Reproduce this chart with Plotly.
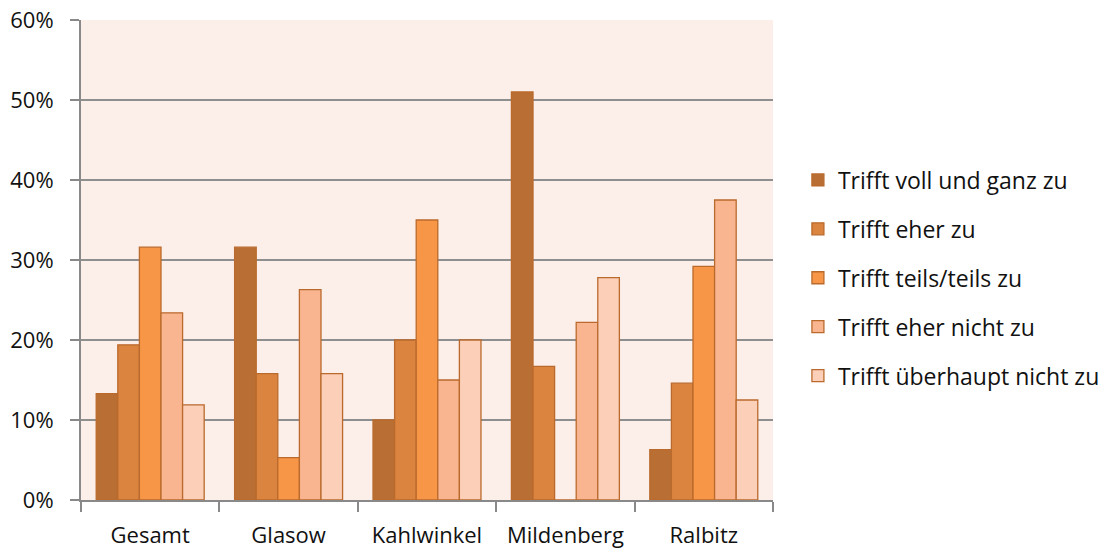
import plotly.graph_objects as go

# Survey results per location (share of responses)
orte = ["Gesamt", "Glasow", "Kahlwinkel", "Mildenberg", "Ralbitz"]
antworten = [
    "Trifft voll und ganz zu",
    "Trifft eher zu",
    "Trifft teils/teils zu",
    "Trifft eher nicht zu",
    "Trifft überhaupt nicht zu",
]
voll_und_ganz = [0.133, 0.316, 0.100, 0.510, 0.063]
eher_zu = [0.194, 0.158, 0.200, 0.167, 0.146]
teils_teils = [0.316, 0.053, 0.350, 0.000, 0.292]
eher_nicht = [0.234, 0.263, 0.150, 0.222, 0.375]
ueberhaupt_nicht = [0.119, 0.158, 0.200, 0.278, 0.125]

werte = [voll_und_ganz, eher_zu, teils_teils, eher_nicht, ueberhaupt_nicht]
farben = ["#B96F33", "#DA843F", "#F79646", "#F9B590", "#FBCFB8"]
rand = "#BA6A2C"

schrift = "Open Sans, Liberation Sans, sans-serif"

fig = go.Figure()
for name, y, farbe in zip(antworten, werte, farben):
    fig.add_trace(go.Bar(
        x=orte, y=y, name=name, legendgroup=name,
        marker=dict(color=farbe, line=dict(color=rand, width=1.3)),
    ))

fig.update_layout(
    width=1105, height=550,
    margin=dict(l=81, r=332, t=20, b=50, autoexpand=False),
    paper_bgcolor="white",
    plot_bgcolor="#FCEEE8",
    barmode="group",
    bargap=0.22,
    bargroupgap=0,
    font=dict(family=schrift, size=22, color="#111111"),
    legend=dict(
        x=1.036, y=0.4625, xanchor="left", yanchor="middle",
        traceorder="grouped", tracegroupgap=16,
        font=dict(family=schrift, size=23, color="#111111"),
        itemwidth=30,
    ),
    xaxis=dict(
        showgrid=False,
        automargin=False,
        tickson="boundaries",
        ticks="outside", ticklen=10, tickcolor="#898989", tickwidth=2,
        showline=True, linecolor="#898989", linewidth=2,
        tickfont=dict(size=22),
        ticklabelstandoff=15,
    ),
    yaxis=dict(
        range=[0, 0.6], dtick=0.1, tickformat=".0%",
        automargin=False,
        showgrid=True, gridcolor="#8E8E8E", gridwidth=2,
        ticks="outside", ticklen=9, tickcolor="#898989", tickwidth=2,
        showline=True, linecolor="#898989", linewidth=2,
        zeroline=False,
        tickfont=dict(size=22),
        ticklabelstandoff=12,
    ),
)

fig.write_html("out.html")
